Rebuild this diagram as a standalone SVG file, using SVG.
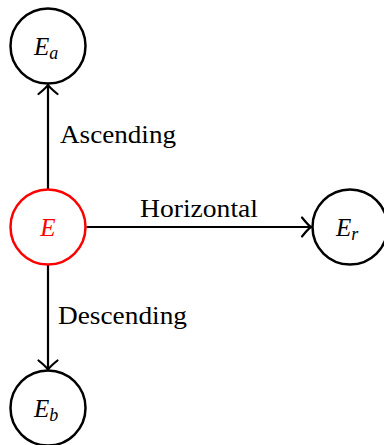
<svg xmlns="http://www.w3.org/2000/svg" width="384" height="445" viewBox="0 0 384 445">
<style>
.node{fill:#fff;stroke:#000;stroke-width:2.5}
.red{stroke:#ff0000}
.m{font-family:"Liberation Serif",serif;font-style:italic;font-size:25px;fill:#000}
.lbl{font-family:"Liberation Serif",serif;font-size:25px;fill:#000}
.edge{stroke:#000;stroke-width:2.2;fill:none}
</style>
<defs>
<marker id="to" markerUnits="userSpaceOnUse" markerWidth="24" markerHeight="24" viewBox="-12 -12 24 24" refX="0" refY="0" orient="auto" overflow="visible">
<path d="M -9,-9.5 Q -3,-2 0,0 Q -3,2 -9,9.5" fill="none" stroke="#000" stroke-width="2.2" stroke-linecap="round"/>
</marker>
</defs>
<g id="connectors">
<line class="edge" x1="48" y1="189" x2="48" y2="85" marker-end="url(#to)"/>
<line class="edge" x1="86.5" y1="227" x2="311" y2="227" marker-end="url(#to)"/>
<line class="edge" x1="48" y1="265" x2="48" y2="369.5" marker-end="url(#to)"/>
<text class="lbl" x="60" y="143" textLength="116" lengthAdjust="spacingAndGlyphs">Ascending</text>
<text class="lbl" x="140" y="217" textLength="118" lengthAdjust="spacingAndGlyphs">Horizontal</text>
<text class="lbl" x="58" y="324" textLength="129" lengthAdjust="spacingAndGlyphs">Descending</text>
</g>
<g id="Ea">
<circle class="node" cx="48" cy="46" r="37.5"/>
<text class="m" x="34" y="55">E<tspan font-size="18" dy="4">a</tspan></text>
</g>
<g id="E">
<circle class="node red" cx="48" cy="227" r="37.5"/>
<text class="m" x="48" y="236" text-anchor="middle" fill="#ff0000" style="fill:#ff0000">E</text>
</g>
<g id="Er">
<circle class="node" cx="350" cy="227" r="37.5"/>
<text class="m" x="336" y="236">E<tspan font-size="18" dy="4">r</tspan></text>
</g>
<g id="Eb">
<circle class="node" cx="48" cy="408" r="37.5"/>
<text class="m" x="34" y="417">E<tspan font-size="18" dy="4">b</tspan></text>
</g>
</svg>
